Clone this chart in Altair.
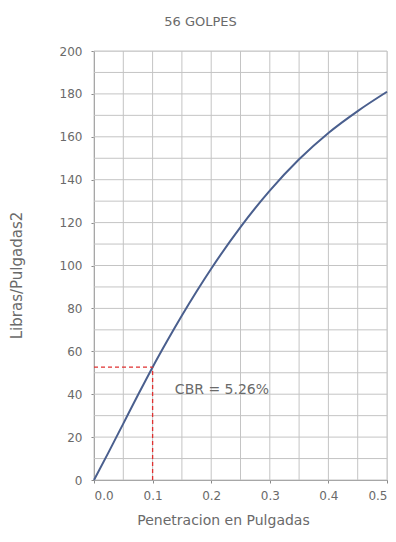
import altair as alt
import pandas as pd

# Data
penetracion = [0.0, 0.025, 0.05, 0.075, 0.1, 0.125, 0.15, 0.175, 0.2, 0.25, 0.3, 0.35, 0.4, 0.45, 0.5]
presion = [0, 13, 26.3, 39.6, 52.6, 64.9, 76.7, 87.9, 98.5, 117.9, 134.9, 149.5, 161.8, 172, 181]
cbr_x = 0.1
cbr_y = 52.6
cbr_label = "CBR = 5.26%"
x_ticks = [0.0, 0.1, 0.2, 0.3, 0.4, 0.5]
y_ticks = list(range(0, 201, 20))
x_grid = [round(i * 0.05, 2) for i in range(11)]
y_grid = list(range(0, 201, 10))

curve = pd.DataFrame({"x": penetracion, "y": presion})
FONT = "DejaVu Sans"
GRID = "#c4c4c4"
TXT = "#6a6a6a"

xs = alt.Scale(domain=[0, 0.5], nice=False)
ys = alt.Scale(domain=[0, 200], nice=False)

vgrid = alt.Chart(pd.DataFrame({"x": x_grid})).mark_rule(color=GRID, strokeWidth=1).encode(
    x=alt.X("x:Q", scale=xs,
            axis=alt.Axis(values=x_ticks, format=".1f", title="Penetracion en Pulgadas",
                          grid=False, domainColor="#8a8a8a",
                          tickColor="#8a8a8a", tickSize=3,
                          labelColor=TXT, labelFont=FONT, labelFontSize=12,
                          labelPadding=7, labelOverlap=False, labelBound=False,
                          titleColor=TXT, titleFont=FONT, titleFontSize=14,
                          titleFontWeight="normal", titleX=129, titleY=40,
                          titleBaseline="middle"))
)
hgrid = alt.Chart(pd.DataFrame({"y": y_grid})).mark_rule(color=GRID, strokeWidth=1).encode(
    y=alt.Y("y:Q", scale=ys,
            axis=alt.Axis(values=y_ticks, title="Libras/Pulgadas2",
                          grid=False, domainColor="#8a8a8a",
                          tickColor="#8a8a8a", tickSize=3,
                          labelColor=TXT, labelFont=FONT, labelFontSize=12,
                          labelPadding=9,
                          titleColor=TXT, titleFont=FONT, titleFontSize=15,
                          titleFontWeight="normal", titleX=-78, titleY=224,
                          titleBaseline="middle"))
)

base_line = alt.Chart(curve).mark_line(
    color="#4a5f8e", strokeWidth=2, interpolate="monotone"
).encode(x=alt.X("x:Q", scale=xs), y=alt.Y("y:Q", scale=ys))

hline = alt.Chart(pd.DataFrame({"x": [0], "x2": [cbr_x], "y": [cbr_y]})).mark_rule(
    color="#e03030", strokeDash=[4, 3], strokeWidth=1.3
).encode(x=alt.X("x:Q", scale=xs), x2="x2:Q", y=alt.Y("y:Q", scale=ys))

vline = alt.Chart(pd.DataFrame({"x": [cbr_x], "y": [0], "y2": [cbr_y]})).mark_rule(
    color="#e03030", strokeDash=[4, 3], strokeWidth=1.3
).encode(x=alt.X("x:Q", scale=xs), y=alt.Y("y:Q", scale=ys), y2="y2:Q")

label = alt.Chart(pd.DataFrame({"x": [0.138], "y": [42], "t": [cbr_label]})).mark_text(
    align="left", baseline="middle", font=FONT, fontSize=14, color=TXT
).encode(x=alt.X("x:Q", scale=xs), y=alt.Y("y:Q", scale=ys), text="t:N")

chart = alt.layer(vgrid, hgrid, base_line, hline, vline, label).properties(
    width=293, height=429,
    title=alt.TitleParams("56 GOLPES", font=FONT, fontSize=13, fontWeight="normal",
                          color=TXT, anchor="middle", offset=16, dx=-40),
    autosize=alt.AutoSizeParams(type="none"),
    padding={"left": 86, "top": 43, "right": 1, "bottom": 53},
).configure_view(stroke=GRID).configure(background="white")

chart.save("out.html", embed_options={"renderer": "svg", "actions": False})
